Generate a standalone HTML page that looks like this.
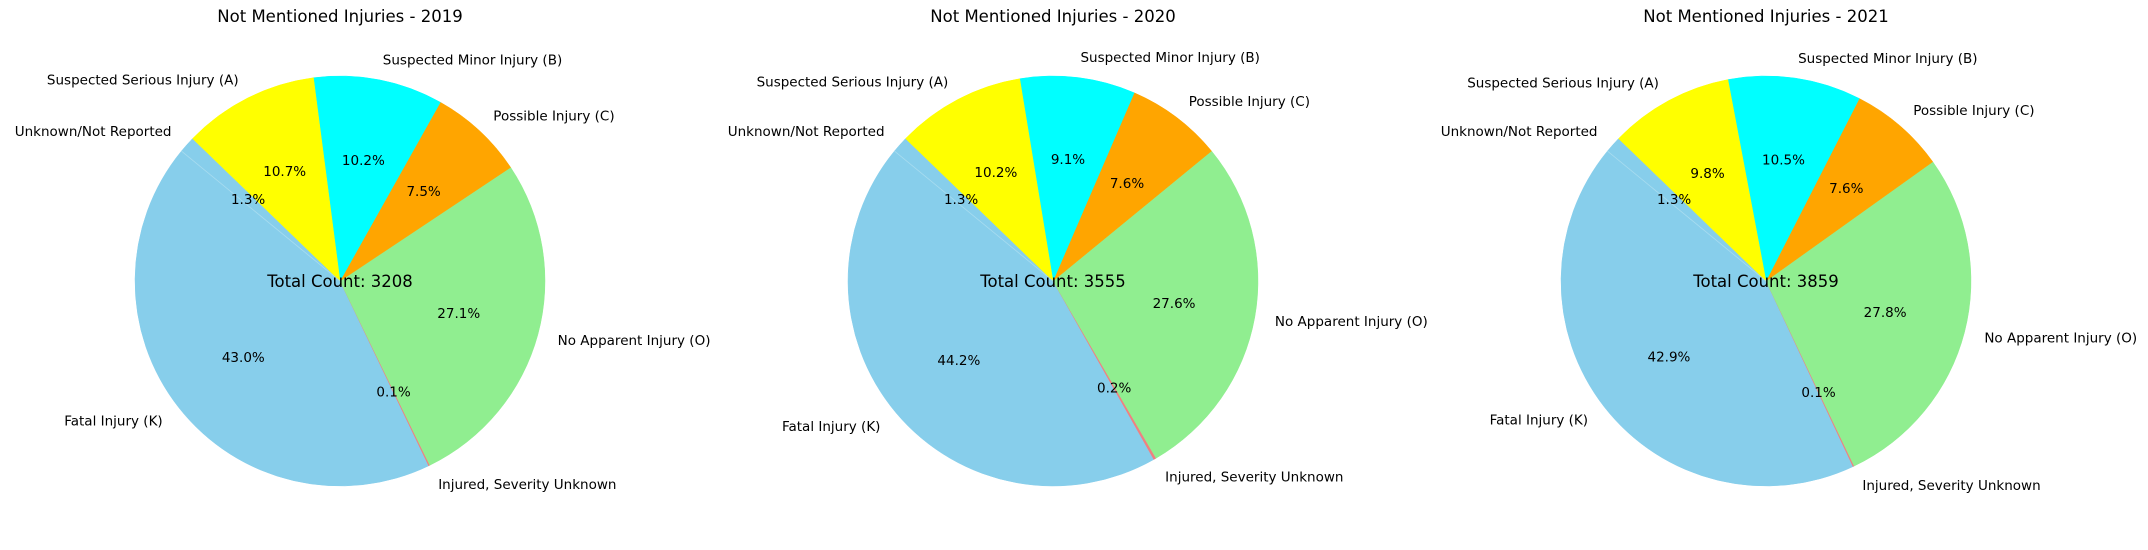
<!DOCTYPE html>
<html><head><meta charset="utf-8"><style>
html,body{margin:0;padding:0;background:#fff;}
svg{display:block;font-family:"DejaVu Sans","Liberation Sans",sans-serif;}
</style></head><body>
<svg id="chart" width="2148" height="550" viewBox="0 0 2148 550"></svg>
<script>
const years = ["2019","2020","2021"];
const totals = [3208, 3555, 3859];
const categories = ["Unknown/Not Reported","Fatal Injury (K)","Injured, Severity Unknown","No Apparent Injury (O)","Possible Injury (C)","Suspected Minor Injury (B)","Suspected Serious Injury (A)"];
const values2019 = [1.3, 43.0, 0.1, 27.1, 7.5, 10.2, 10.7];
const values2020 = [1.3, 44.2, 0.2, 27.6, 7.6, 9.1, 10.2];
const values2021 = [1.3, 42.9, 0.1, 27.8, 7.6, 10.5, 9.8];
const colors = ["#87CEEB","#87CEEB","#F08080","#90EE90","#FFA500","#00FFFF","#FFFF00"];
const seriesList = [values2019, values2020, values2021];

const NS = "http://www.w3.org/2000/svg";
const svg = document.getElementById("chart");
const centersX = [340, 1053, 1766];
const CY = 281, R = 205, START = 136;
function mk(tag, attrs, parent){const e=document.createElementNS(NS,tag);for(const k in attrs)e.setAttribute(k,attrs[k]);parent.appendChild(e);return e;}
function pt(cx,ang,r){const a=ang*Math.PI/180;return [cx+r*Math.cos(a), CY-r*Math.sin(a)];}

seriesList.forEach((vals, pi) => {
  const cx = centersX[pi];
  const g = mk("g", {}, svg);
  
  
  const title = mk("text", {x:cx, y:22, "text-anchor":"middle", "font-size":"16.5"}, g);
  title.textContent = "Not Mentioned Injuries - " + years[pi];
  
  
  const sum = vals.reduce((a,b)=>a+b,0);
  const slicesG = mk("g", {}, g);
  const textG = mk("g", {}, g);
  let ang = START;
  vals.forEach((v, i) => {
    const sweep = v / sum * 360;
    const a0 = ang, a1 = ang + sweep, mid = (a0 + a1) / 2;
    const p0 = pt(cx,a0,R), p1 = pt(cx,a1,R);
    const large = sweep > 180 ? 1 : 0;
    const path = mk("path", {d:`M${cx},${CY} L${p0[0]},${p0[1]} A${R},${R} 0 ${large} 0 ${p1[0]},${p1[1]} Z`, fill:colors[i], stroke:colors[i], "stroke-width":"0.5"}, slicesG);
    
    
    const lp = pt(cx, mid, R*1.1);
    const c = Math.cos(mid*Math.PI/180);
    const lab = mk("text", {x:lp[0], y:lp[1]+5, "text-anchor": c>=0 ? "start" : "end", "font-size":"13.5"}, textG);
    lab.textContent = categories[i];
    
    
    const pp = pt(cx, mid, R*0.6);
    const pct = mk("text", {x:pp[0], y:pp[1]+5, "text-anchor":"middle", "font-size":"13.5"}, textG);
    pct.textContent = v.toFixed(1) + "%";
    
    
    ang = a1;
  });
  const line = mk("line", {x1:cx, y1:CY}, slicesG);
  const pl = pt(cx, START + vals[0]/sum*360, R);
  line.setAttribute("x2", pl[0]); line.setAttribute("y2", pl[1]);
  line.setAttribute("stroke", "#a8dcef"); line.setAttribute("stroke-width", "0.8");
  
  
  const tc = mk("text", {x:cx, y:CY+6, "text-anchor":"middle", "font-size":"16.5"}, textG);
  tc.textContent = "Total Count: " + totals[pi];
  
  
});
</script>
</body></html>
